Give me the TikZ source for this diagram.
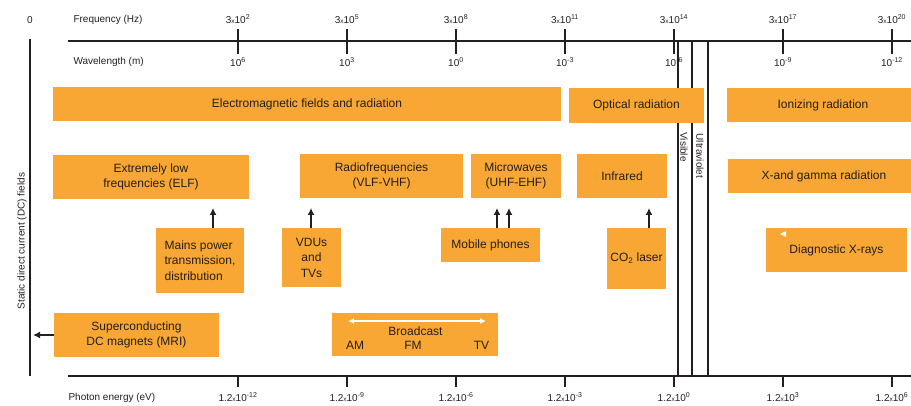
\documentclass[tikz,border=0pt]{standalone}
\usepackage{fontspec}
\setmainfont{Liberation Sans}
\usetikzlibrary{arrows.meta}
\definecolor{emforange}{RGB}{248,166,52}
\definecolor{inkgray}{RGB}{35,31,32}
\newcommand{\timesten}[2]{#1{\fontsize{6.5}{6.5}\selectfont x}10\textsuperscript{#2}}
\begin{document}
\begin{tikzpicture}[x=1pt, y=-1pt,
   band/.style={fill=emforange, inner sep=0pt, align=center, text=inkgray,
                font=\fontsize{12}{15.5}\selectfont},
   axislabel/.style={text=inkgray, font=\fontsize{10}{11}\selectfont},
   upar/.style={-{Latex[length=7pt,width=7pt]}, line width=2pt, draw=inkgray}]
   \useasboundingbox (0,0) rectangle (911,406);

   % scales
   \draw[inkgray, line width=2pt] (30,39) -- (30,376);
   \draw[inkgray, line width=2.3pt] (68,41) -- (911,41);
   \draw[inkgray, line width=2.3pt] (68,376) -- (911,376);
   \foreach \x/\f/\w/\e in {238/2/6/-12, 347/5/3/-9, 456/8/0/-6, 565/11/-3/-3,
                            674/14/-6/0, 783/17/-9/3, 892/20/-12/6} {
      \draw[inkgray, line width=2pt] (\x,29) -- (\x,54);
      \draw[inkgray, line width=2pt] (\x,376) -- (\x,387);
      \node[axislabel] (freq\x) at (\x,19) {\timesten{3}{\f}};
      \node[axislabel] (wave\x) at (\x,62) {10\textsuperscript{\w}};
      \node[axislabel] (energy\x) at (\x,397) {\timesten{1.2}{\e}};
   }
   \node[axislabel] (zero) at (30,20) {0};
   \node[axislabel, anchor=west] (freqtitle) at (70,20) {Frequency (Hz)};
   \node[axislabel, anchor=west] (wavetitle) at (70,62) {Wavelength (m)};
   \node[axislabel, anchor=west] (energytitle) at (65,398) {Photon energy (eV)};
   \node[axislabel, rotate=90] (static) at (22,241) {Static direct current (DC) fields};

   % visible and ultraviolet bands
   \foreach \x in {678,692,708}
      \draw[inkgray, line width=1.5pt] (\x,41) -- (\x,376);
   \node[axislabel, rotate=-90] (visible) at (684,147) {Visible};
   \node[axislabel, rotate=-90] (uv) at (700,156) {Ultraviolet};

   % main classes
   \node[band, minimum width=508pt, minimum height=34pt] (emf) at (307,104) {Electromagnetic fields and radiation};
   \node[band, minimum width=135pt, minimum height=35pt] (optical) at (636.5,105.5) {Optical radiation};
   \node[band, minimum width=192pt, minimum height=34pt] (ionizing) at (823,105) {Ionizing radiation};

   \node[band, minimum width=196pt, minimum height=44pt] (elf) at (151,177) {Extremely low\\frequencies (ELF)};
   \node[band, minimum width=163pt, minimum height=44pt] (rf) at (381.5,176) {Radiofrequencies\\(VLF-VHF)};
   \node[band, minimum width=90pt, minimum height=44pt] (micro) at (516,176) {Microwaves\\(UHF-EHF)};
   \node[band, minimum width=90pt, minimum height=44pt] (infrared) at (622,176) {Infrared};
   \node[band, minimum width=192pt, minimum height=34pt] (xgamma) at (824,176) {X-and gamma radiation};

   % sources
   \node[band, align=left, minimum width=88pt, minimum height=65pt] (mains) at (200,260.5) {Mains power\\transmission,\\distribution};
   \node[band, minimum width=59pt, minimum height=59pt] (vdu) at (311.5,257.5) {VDUs\\and\\TVs};
   \node[band, minimum width=99pt, minimum height=34pt] (mobile) at (490.5,245) {Mobile phones};
   \node[band, minimum width=59pt, minimum height=61pt] (laser) at (636.5,258.5) {CO\textsubscript{2} laser};
   \node[band, minimum width=141pt, minimum height=44pt] (xrays) at (836.5,250) {Diagnostic X-rays};
   \fill[white] (786,231) -- (780,234) -- (786,237) -- cycle;

   \node[band, minimum width=166pt, minimum height=43pt] (broadcast) at (415,334.5) {};
   \node[band, fill=none] (bctext) at (415.5,331) {Broadcast};
   \node[band, fill=none] (am) at (355,345) {AM};
   \node[band, fill=none] (fm) at (413,345) {FM};
   \node[band, fill=none] (tv) at (481.5,345) {TV};
   \coordinate (bcleft) at (348,321);
   \coordinate (bcright) at (486,321);
   \draw[{Latex[length=6pt,width=6pt]}-{Latex[length=6pt,width=6pt]}, white, line width=1.2pt] (bcleft) -- (bcright);

   \node[band, minimum width=165pt, minimum height=44pt] (mri) at (136.5,335) {Superconducting\\DC magnets (MRI)};

   % arrows
   \coordinate (elfarr) at (213,208);
   \coordinate (rfarr) at (311,208);
   \coordinate (microarrA) at (497,208);
   \coordinate (microarrB) at (509,208);
   \coordinate (irarr) at (649,208);
   \coordinate (dcarr) at (33,335);
   \draw[upar] (mains.north -| elfarr) -- (elfarr);
   \draw[upar] (vdu.north -| rfarr) -- (rfarr);
   \draw[upar] (mobile.north -| microarrA) -- (microarrA);
   \draw[upar] (mobile.north -| microarrB) -- (microarrB);
   \draw[upar] (laser.north -| irarr) -- (irarr);
   \draw[upar] (mri.west) -- (dcarr);
\end{tikzpicture}
\end{document}
